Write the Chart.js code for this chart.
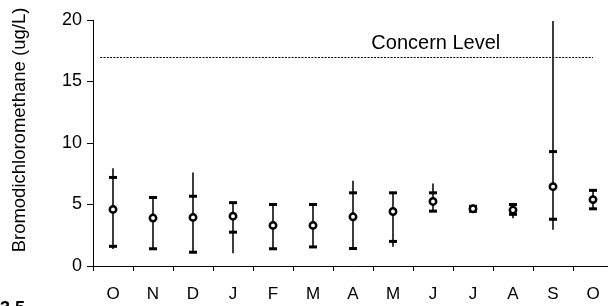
<!DOCTYPE html>
<html>
<head>
<meta charset="utf-8">
<script src="https://cdn.jsdelivr.net/npm/chart.js@4/dist/chart.umd.min.js"></script>
<style>
  html, body { margin: 0; padding: 0; background: #fff; overflow: hidden; }
  #c { display: block; }
</style>
</head>
<body>
<canvas id="c" width="620" height="306"></canvas>
<script>
// Monthly bromodichloromethane, Oct -> Oct
const months = ['O', 'N', 'D', 'J', 'F', 'M', 'A', 'M', 'J', 'J', 'A', 'S', 'O']
const means = [4.6, 3.9, 3.95, 4.05, 3.3, 3.3, 4.0, 4.43, 5.25, 4.65, 4.55, 6.45, 5.4]
const upperTick = [7.2, 5.57, 5.67, 5.15, 5.0, 5.0, 5.95, 5.95, 5.95, 4.85, 5.0, 9.3, 6.15]
const lowerTick = [1.6, 1.4, 1.12, 2.75, 1.4, 1.55, 1.42, 2.0, 4.46, 4.45, 4.2, 3.8, 4.65]
const whiskerMax = [7.93, 5.57, 7.58, 5.15, 5.0, 5.1, 6.9, 5.95, 6.68, 4.85, 5.0, 19.9, 6.15]
const whiskerMin = [1.4, 1.4, 1.12, 1.07, 1.4, 1.55, 1.42, 1.6, 4.46, 4.45, 3.9, 2.97, 4.65]
const yTicks = [0, 5, 10, 15, 20]
const concernLevel = 17
const concernLabel = 'Concern Level'
const yTitle = 'Bromodichloromethane (ug/L)'

const FONT = 'Arial, "Liberation Sans", sans-serif'
const INK = '#000'

const whiskers = whiskerMin.map((lo, i) => [lo, whiskerMax[i]])

// dotted concern line, its label, the y title and the cut-off figure number
const overlay = {
  id: 'overlay',
  beforeDatasetsDraw(chart) {
    const { ctx, scales: { x, y } } = chart
    const yy = Math.round(y.getPixelForValue(concernLevel)) + 0.5
    ctx.save()
    ctx.strokeStyle = INK
    ctx.lineWidth = 1
    ctx.setLineDash([2, 1.3])
    ctx.beginPath()
    ctx.moveTo(x.getPixelForValue(-0.32), yy)
    ctx.lineTo(x.getPixelForValue(months.length - 1), yy)
    ctx.stroke()
    ctx.restore()
  },
  afterDraw(chart) {
    const { ctx, scales: { x, y }, chartArea } = chart
    ctx.save()
    ctx.fillStyle = INK
    ctx.font = '20px ' + FONT
    ctx.textAlign = 'center'
    ctx.textBaseline = 'alphabetic'
    ctx.fillText(concernLabel, x.getPixelForValue(8.07), y.getPixelForValue(concernLevel) - 8)

    ctx.font = '18.5px ' + FONT
    ctx.translate(20, (chartArea.top + chartArea.bottom) / 2 - 13)
    ctx.rotate(-Math.PI / 2)
    ctx.textBaseline = 'middle'
    ctx.fillText(yTitle, 0, 0)
    ctx.restore()

    ctx.save()
    ctx.fillStyle = INK
    ctx.font = 'bold 18px ' + FONT
    ctx.textBaseline = 'top'
    ctx.fillText('3.5', 0, 300)
    ctx.restore()
  }
}

new Chart(document.getElementById('c'), {
  type: 'bar',
  data: {
    labels: months,
    datasets: [
      {
        type: 'line',
        label: 'Mean',
        data: means,
        showLine: false,
        pointStyle: 'circle',
        pointRadius: 3.2,
        pointBorderWidth: 2.5,
        pointBackgroundColor: '#fff',
        pointBorderColor: INK,
        order: 0
      },
      {
        type: 'line',
        label: 'Upper',
        data: upperTick,
        showLine: false,
        pointStyle: 'line',
        pointRadius: 4,
        pointBorderWidth: 3,
        pointBorderColor: INK,
        order: 1
      },
      {
        type: 'line',
        label: 'Lower',
        data: lowerTick,
        showLine: false,
        pointStyle: 'line',
        pointRadius: 4,
        pointBorderWidth: 3,
        pointBorderColor: INK,
        order: 1
      },
      {
        type: 'bar',
        label: 'Range',
        data: whiskers,
        barThickness: 1.1,
        backgroundColor: '#222',
        grouped: false,
        order: 2
      }
    ]
  },
  options: {
    responsive: false,
    animation: false,
    layout: { padding: { top: 20, right: 5, left: 0, bottom: 0 } },
    plugins: {
      legend: { display: false },
      tooltip: { enabled: false }
    },
    scales: {
      x: {
        offset: true,
        grid: {
          display: true,
          offset: true,
          drawOnChartArea: false,
          tickLength: 5,
          color: INK,
          lineWidth: 1
        },
        border: { display: true, color: INK, width: 1 },
        ticks: {
          color: INK,
          font: { family: FONT, size: 17 },
          padding: 13,
          maxRotation: 0,
          autoSkip: false
        },
        afterFit(scale) { scale.height = 40 }
      },
      y: {
        min: 0,
        max: 20,
        afterBuildTicks(scale) { scale.ticks = yTicks.map(v => ({ value: v })) },
        grid: {
          display: true,
          drawOnChartArea: false,
          tickLength: 6,
          color: INK,
          lineWidth: 1
        },
        border: { display: true, color: INK, width: 1 },
        ticks: {
          color: INK,
          font: { family: FONT, size: 18 },
          padding: 5
        },
        afterFit(scale) { scale.width = 93 }
      }
    }
  },
  plugins: [overlay]
})
</script>
</body>
</html>
